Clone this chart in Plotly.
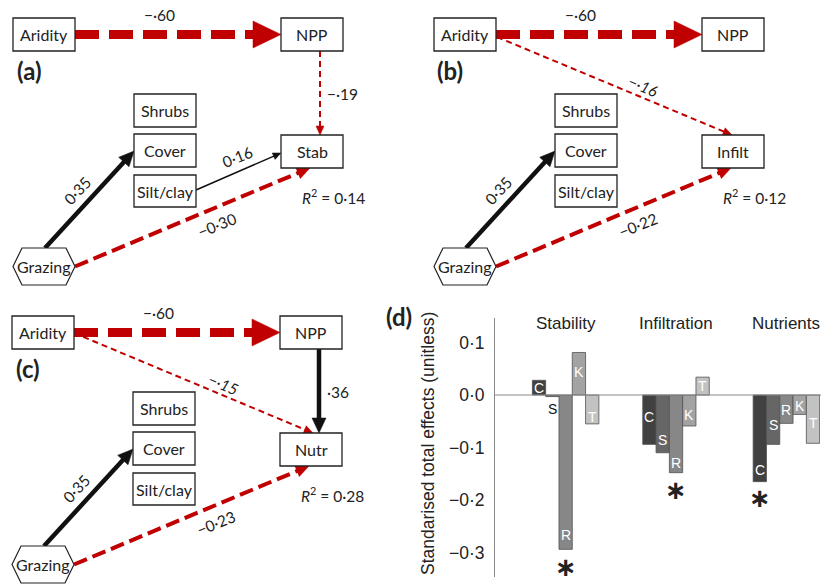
import math
import plotly.graph_objects as go

# ---------------- data: bar chart (d) ----------------
groups = ["Stability", "Infiltration", "Nutrients"]
letters = ["C", "S", "R", "K", "T"]
stability = [0.028, -0.003, -0.294, 0.081, -0.055]
infiltration = [-0.094, -0.110, -0.148, -0.059, 0.034]
nutrients = [-0.165, -0.094, -0.054, -0.037, -0.092]
significant_bar = ["R", "R", "C"]          # bar marked with * in each group
ytick_vals = [0.1, 0.0, -0.1, -0.2, -0.3]
ytick_text = ["0·1", "0·0", "−0·1", "−0·2", "−0·3"]
ytitle = "Standarised total effects (unitless)"

# ---------------- data: path diagrams ----------------
node_names = ["Aridity", "NPP", "Shrubs", "Cover", "Silt/clay", "Grazing"]
targets = ["Stab", "Infilt", "Nutr"]
coef_aridity_npp = "−·60"
coef_grazing_cover = "0·35"
coef_grazing_target = ["−0·30", "−0·22", "−0·23"]
coef_npp_stab = "−·19"
coef_silt_stab = "0·16"
coef_aridity_infilt = "−·16"
coef_aridity_nutr = "−·15"
coef_npp_nutr = "·36"
r2_values = ["0·14", "0·12", "0·28"]
panel_labels = ["(a)", "(b)", "(c)", "(d)"]

# ---------------- style ----------------
W, H = 825, 586
RED = "#c00000"
BLK = "#111111"
DFONT = "Lato, 'Open Sans', sans-serif"
BFONT = "'Liberation Sans', Arial, sans-serif"
bar_colors = {"C": "#414141", "S": "#666666", "R": "#878787", "K": "#a3a3a3", "T": "#c2c2c2"}


def xp(px):
    return px / W


def yp(py):
    return 1 - py / H


shapes = []
annotations = []


def add_box(x0, y0, x1, y1, text):
    shapes.append(dict(type="rect", xref="x", yref="y", x0=x0, y0=y0, x1=x1, y1=y1,
                       line=dict(color="#222222", width=1.3), fillcolor="white", layer="above"))
    annotations.append(dict(x=(x0 + x1) / 2, y=(y0 + y1) / 2, xref="x", yref="y", text=text,
                            showarrow=False, font=dict(family=DFONT, size=16, color="#222222")))


def add_hex(ox, oy, text):
    pts = [(13, 266.5), (22, 248), (66, 248), (75, 266.5), (66, 285), (22, 285)]
    path = "M " + " L ".join(f"{x + ox},{y + oy}" for x, y in pts) + " Z"
    shapes.append(dict(type="path", xref="x", yref="y", path=path,
                       line=dict(color="#222222", width=1.2), fillcolor="white", layer="above"))
    annotations.append(dict(x=44 + ox, y=266.5 + oy, xref="x", yref="y", text=text,
                            showarrow=False, font=dict(family=DFONT, size=16, color="#222222")))


def add_arrow(x0, y0, x1, y1, color, width, dash, hl, hw):
    dx, dy = x1 - x0, y1 - y0
    L = math.hypot(dx, dy)
    ux, uy = dx / L, dy / L
    bx, by = x1 - ux * hl, y1 - uy * hl
    shapes.append(dict(type="line", xref="x", yref="y", x0=x0, y0=y0,
                       x1=bx + ux * 1.5, y1=by + uy * 1.5,
                       line=dict(color=color, width=width, dash=dash)))
    px, py = -uy * hw / 2, ux * hw / 2
    path = f"M {x1},{y1} L {bx + px},{by + py} L {bx - px},{by - py} Z"
    shapes.append(dict(type="path", xref="x", yref="y", path=path, fillcolor=color,
                       line=dict(color=color, width=0.5)))


def add_label(x, y, text, angle=0, italic=False, size=15.5):
    t = f"<i>{text}</i>" if italic else text
    annotations.append(dict(x=x, y=y, xref="x", yref="y", text=t, showarrow=False,
                            textangle=angle, font=dict(family=DFONT, size=size, color="#222222")))


panel_offsets = [(0, 0), (421, 0), (-1, 298)]

for p, (ox, oy) in enumerate(panel_offsets):
    # edges (drawn first so boxes sit on top)
    add_arrow(75 + ox, 34.5 + oy, 281 + ox, 34.5 + oy, RED, 9, "24px,10px", 28, 27)
    add_label(159 + ox, 15 + oy, coef_aridity_npp)
    add_arrow(45 + ox, 248 + oy, 134 + ox, 151 + oy, BLK, 4.5, "solid", 15, 14)
    add_label(77 + ox, 191 + oy, coef_grazing_cover, angle=-47)
    add_arrow(75 + ox, 266.5 + oy, 310 + ox, 168 + oy, RED, 4, "14px,6px", 13, 12)
    add_label(217 + ox, 225 + oy, coef_grazing_target[p], angle=-22)
    if p == 0:
        add_arrow(320 + ox, 51 + oy, 320 + ox, 135 + oy, RED, 2, "6px,4px", 9, 8)
        add_label(342 + ox, 94 + oy, coef_npp_stab)
        add_arrow(196 + ox, 190 + oy, 281 + ox, 153 + oy, BLK, 1.5, "solid", 8, 7)
        add_label(237 + ox, 157 + oy, coef_silt_stab, angle=-22)
    elif p == 1:
        add_arrow(76 + ox, 37 + oy, 311 + ox, 135 + oy, RED, 2, "6px,4px", 9, 8)
        add_label(222 + ox, 86 + oy, coef_aridity_infilt, angle=23, italic=True)
    else:
        add_arrow(75 + ox, 35 + oy, 314 + ox, 135 + oy, RED, 2, "6px,4px", 9, 8)
        add_label(224 + ox, 86 + oy, coef_aridity_nutr, angle=23, italic=True)
        add_arrow(320 + ox, 51 + oy, 320 + ox, 135 + oy, BLK, 4.5, "solid", 15, 14)
        add_label(339 + ox, 94 + oy, coef_npp_nutr)

    # nodes
    add_box(13 + ox, 18 + oy, 75 + ox, 51 + oy, node_names[0])
    add_box(281 + ox, 18 + oy, 343 + ox, 51 + oy, node_names[1])
    add_box(134 + ox, 94 + oy, 196 + ox, 127 + oy, node_names[2])
    add_box(134 + ox, 134 + oy, 196 + ox, 167 + oy, node_names[3])
    add_box(134 + ox, 175 + oy, 196 + ox, 207 + oy, node_names[4])
    add_box(281 + ox, 135 + oy, 343 + ox, 168 + oy, targets[p])
    add_hex(ox, oy, node_names[5])
    add_label(333 + ox, 196 + oy, f"<i>R</i><sup>2</sup> = {r2_values[p]}")
    annotations.append(dict(x=29 + ox, y=70 + oy, xref="x", yref="y", text=f"<b>{panel_labels[p]}</b>",
                            showarrow=False, font=dict(family=DFONT, size=24, color="#222222")))

# ---------------- bar chart ----------------
GAP = 8.3
series = [stability, infiltration, nutrients]
fig = go.Figure()
fig.add_trace(go.Scatter(x=[100], y=[100], xaxis="x", yaxis="y", mode="markers",
                         marker=dict(opacity=0), showlegend=False, hoverinfo="skip"))

for i, let in enumerate(letters):
    xs = [g * GAP + i for g in range(len(groups))]
    ys = [series[g][i] for g in range(len(groups))]
    fig.add_trace(go.Bar(x=xs, y=ys, width=1, xaxis="x2", yaxis="y2", showlegend=False,
                         marker=dict(color=bar_colors[let], line=dict(color="#505050", width=0.8))))

# letter positions inside bars (in data units)
letter_y = [[0.014, -0.027, -0.267, 0.044, -0.0425],
            [-0.041, -0.086, -0.129, -0.038, 0.018],
            [-0.143, -0.057, -0.029, -0.021, -0.053]]
for g in range(len(groups)):
    for i, let in enumerate(letters):
        tiny = abs(series[g][i]) < 0.01
        annotations.append(dict(x=g * GAP + i, y=letter_y[g][i], xref="x2", yref="y2", text=let,
                                showarrow=False,
                                font=dict(family=BFONT, size=14, color="#111111" if tiny else "white")))
    annotations.append(dict(x=g * GAP + 2, y=323, xref="x2", yref="y", text=groups[g], showarrow=False,
                            font=dict(family=BFONT, size=17, color="#222222")))
star_y = [-0.327, -0.181, -0.197]
for g in range(len(groups)):
    i = letters.index(significant_bar[g])
    annotations.append(dict(x=g * GAP + i, y=star_y[g], xref="x2", yref="y2", text="<b>∗</b>",
                            showarrow=False,
                            font=dict(family="'DejaVu Sans', sans-serif", size=26, color="#222222")))

annotations.append(dict(x=428, y=444, xref="x", yref="y", text=ytitle, textangle=-90, showarrow=False,
                        font=dict(family=BFONT, size=17.5, color="#222222")))
annotations.append(dict(x=399, y=316, xref="x", yref="y", text=f"<b>{panel_labels[3]}</b>",
                        showarrow=False, font=dict(family=DFONT, size=24, color="#222222")))

shapes.append(dict(type="line", xref="paper", yref="y2", x0=xp(495), x1=xp(821), y0=0, y1=0,
                   line=dict(color="#8a8a8a", width=1)))

x2_left = -3.31
x2_right = x2_left + 325 / 13.3
y_top = (395 - 318) / 525
y_bot = -(577 - 395) / 525

fig.update_layout(
    width=W, height=H, margin=dict(l=0, r=0, t=0, b=0),
    paper_bgcolor="white", plot_bgcolor="rgba(0,0,0,0)",
    showlegend=False, barmode="overlay", hovermode=False,
    xaxis=dict(domain=[0, 1], range=[0, W], visible=False, fixedrange=True),
    yaxis=dict(domain=[0, 1], range=[H, 0], visible=False, fixedrange=True),
    xaxis2=dict(domain=[xp(495), xp(820)], range=[x2_left, x2_right], anchor="y2",
                visible=False, showgrid=False, zeroline=False),
    yaxis2=dict(domain=[yp(577), yp(318)], range=[y_bot, y_top], anchor="x2",
                showline=True, linecolor="#8a8a8a", linewidth=1, showgrid=False, zeroline=False,
                tickvals=ytick_vals, ticktext=ytick_text, ticks="", ticklabelstandoff=6,
                tickfont=dict(family=BFONT, size=17.5, color="#222222")),
    shapes=shapes, annotations=annotations,
)

fig.write_html("out.html", config={"displayModeBar": False, "staticPlot": True},
               post_script="document.body.style.margin='0px';document.body.style.overflow='hidden';")
